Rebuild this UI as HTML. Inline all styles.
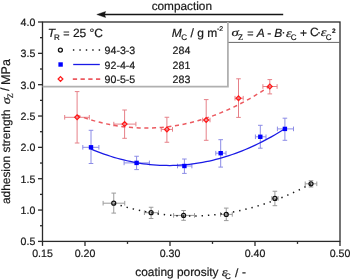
<!DOCTYPE html>
<html><head><meta charset="utf-8"><style>
html,body{margin:0;padding:0;background:#fff;width:350px;height:280px;overflow:hidden}
svg{display:block;filter:blur(0.3px)}
text{text-rendering:geometricPrecision}
text{font-family:"Liberation Sans",sans-serif;fill:#181818;stroke:#181818;stroke-width:0.2px}
.tk{font-size:10.6px}
</style></head><body>
<svg width="350" height="280" viewBox="0 0 350 280">
<rect x="42.5" y="22.0" width="297.5" height="219.4" fill="none" stroke="#2a2a2a" stroke-width="1.3"/>
<line x1="38.0" y1="241.40" x2="42.5" y2="241.40" stroke="#2a2a2a" stroke-width="1.3"/>
<text x="35.3" y="245.30" text-anchor="end" class="tk">0.5</text>
<line x1="40.0" y1="225.73" x2="42.5" y2="225.73" stroke="#2a2a2a" stroke-width="1.3"/>
<line x1="38.0" y1="210.06" x2="42.5" y2="210.06" stroke="#2a2a2a" stroke-width="1.3"/>
<text x="35.3" y="213.96" text-anchor="end" class="tk">1.0</text>
<line x1="40.0" y1="194.39" x2="42.5" y2="194.39" stroke="#2a2a2a" stroke-width="1.3"/>
<line x1="38.0" y1="178.71" x2="42.5" y2="178.71" stroke="#2a2a2a" stroke-width="1.3"/>
<text x="35.3" y="182.61" text-anchor="end" class="tk">1.5</text>
<line x1="40.0" y1="163.04" x2="42.5" y2="163.04" stroke="#2a2a2a" stroke-width="1.3"/>
<line x1="38.0" y1="147.37" x2="42.5" y2="147.37" stroke="#2a2a2a" stroke-width="1.3"/>
<text x="35.3" y="151.27" text-anchor="end" class="tk">2.0</text>
<line x1="40.0" y1="131.70" x2="42.5" y2="131.70" stroke="#2a2a2a" stroke-width="1.3"/>
<line x1="38.0" y1="116.03" x2="42.5" y2="116.03" stroke="#2a2a2a" stroke-width="1.3"/>
<text x="35.3" y="119.93" text-anchor="end" class="tk">2.5</text>
<line x1="40.0" y1="100.36" x2="42.5" y2="100.36" stroke="#2a2a2a" stroke-width="1.3"/>
<line x1="38.0" y1="84.69" x2="42.5" y2="84.69" stroke="#2a2a2a" stroke-width="1.3"/>
<text x="35.3" y="88.59" text-anchor="end" class="tk">3.0</text>
<line x1="40.0" y1="69.01" x2="42.5" y2="69.01" stroke="#2a2a2a" stroke-width="1.3"/>
<line x1="38.0" y1="53.34" x2="42.5" y2="53.34" stroke="#2a2a2a" stroke-width="1.3"/>
<text x="35.3" y="57.24" text-anchor="end" class="tk">3.5</text>
<line x1="40.0" y1="37.67" x2="42.5" y2="37.67" stroke="#2a2a2a" stroke-width="1.3"/>
<line x1="38.0" y1="22.00" x2="42.5" y2="22.00" stroke="#2a2a2a" stroke-width="1.3"/>
<text x="35.3" y="25.90" text-anchor="end" class="tk">4.0</text>
<line x1="42.50" y1="241.4" x2="42.50" y2="245.9" stroke="#2a2a2a" stroke-width="1.3"/>
<text x="42.50" y="256.7" text-anchor="middle" class="tk">0.15</text>
<line x1="85.00" y1="241.4" x2="85.00" y2="245.9" stroke="#2a2a2a" stroke-width="1.3"/>
<text x="85.00" y="256.7" text-anchor="middle" class="tk">0.20</text>
<line x1="170.00" y1="241.4" x2="170.00" y2="245.9" stroke="#2a2a2a" stroke-width="1.3"/>
<text x="170.00" y="256.7" text-anchor="middle" class="tk">0.30</text>
<line x1="255.00" y1="241.4" x2="255.00" y2="245.9" stroke="#2a2a2a" stroke-width="1.3"/>
<text x="255.00" y="256.7" text-anchor="middle" class="tk">0.40</text>
<line x1="340.00" y1="241.4" x2="340.00" y2="245.9" stroke="#2a2a2a" stroke-width="1.3"/>
<text x="340.00" y="256.7" text-anchor="middle" class="tk">0.50</text>
<line x1="127.50" y1="241.4" x2="127.50" y2="243.9" stroke="#2a2a2a" stroke-width="1.3"/>
<line x1="212.50" y1="241.4" x2="212.50" y2="243.9" stroke="#2a2a2a" stroke-width="1.3"/>
<line x1="297.50" y1="241.4" x2="297.50" y2="243.9" stroke="#2a2a2a" stroke-width="1.3"/>
<path d="M77.1,91.6V143.0M64.7,117.3H89.3M74.8,91.6h4.6M74.8,143.0h4.6M64.7,115.0v4.6M89.3,115.0v4.6" stroke="#e68088" stroke-width="1" fill="none"/>
<path d="M124.6,110.0V138.3M113.8,124.1H135.9M122.3,110.0h4.6M122.3,138.3h4.6M113.8,121.8v4.6M135.9,121.8v4.6" stroke="#e68088" stroke-width="1" fill="none"/>
<path d="M166.9,117.25V142.25M161.25,129.4H172.5M164.6,117.25h4.6M164.6,142.25h4.6M161.25,127.10000000000001v4.6M172.5,127.10000000000001v4.6" stroke="#e68088" stroke-width="1" fill="none"/>
<path d="M206.2,99.6V140.3M202.7,120.0H210.0M203.89999999999998,99.6h4.6M203.89999999999998,140.3h4.6M202.7,117.7v4.6M210.0,117.7v4.6" stroke="#e68088" stroke-width="1" fill="none"/>
<path d="M238.5,78.8V117.4M235.0,98.2H243.2M236.2,78.8h4.6M236.2,117.4h4.6M235.0,95.9v4.6M243.2,95.9v4.6" stroke="#e68088" stroke-width="1" fill="none"/>
<path d="M269.8,79.6V93.9M262.9,86.5H277.1M267.5,79.6h4.6M267.5,93.9h4.6M262.9,84.2v4.6M277.1,84.2v4.6" stroke="#e68088" stroke-width="1" fill="none"/>
<path d="M91.0,130.3V163.5M82.8,147.3H98.9M88.7,130.3h4.6M88.7,163.5h4.6M82.8,145.0v4.6M98.9,145.0v4.6" stroke="#8c8ce6" stroke-width="1" fill="none"/>
<path d="M136.6,156.25V169.6M124.1,162.9H149.4M134.29999999999998,156.25h4.6M134.29999999999998,169.6h4.6M124.1,160.6v4.6M149.4,160.6v4.6" stroke="#8c8ce6" stroke-width="1" fill="none"/>
<path d="M184.4,159.0V173.4M177.5,166.0H191.9M182.1,159.0h4.6M182.1,173.4h4.6M177.5,163.7v4.6M191.9,163.7v4.6" stroke="#8c8ce6" stroke-width="1" fill="none"/>
<path d="M220.7,139.7V167.1M215.8,153.2H226.0M218.39999999999998,139.7h4.6M218.39999999999998,167.1h4.6M215.8,150.89999999999998v4.6M226.0,150.89999999999998v4.6" stroke="#8c8ce6" stroke-width="1" fill="none"/>
<path d="M260.3,125.3V148.2M255.4,136.8H266.0M258.0,125.3h4.6M258.0,148.2h4.6M255.4,134.5v4.6M266.0,134.5v4.6" stroke="#8c8ce6" stroke-width="1" fill="none"/>
<path d="M284.9,118.2V140.3M277.4,128.9H293.5M282.59999999999997,118.2h4.6M282.59999999999997,140.3h4.6M277.4,126.60000000000001v4.6M293.5,126.60000000000001v4.6" stroke="#8c8ce6" stroke-width="1" fill="none"/>
<path d="M113.75,193.1V213.1M103.1,203.2H124.75M111.45,193.1h4.6M111.45,213.1h4.6M103.1,200.89999999999998v4.6M124.75,200.89999999999998v4.6" stroke="#9a9a9a" stroke-width="1" fill="none"/>
<path d="M151.1,207.25V218.5M144.4,212.7H158.5M148.79999999999998,207.25h4.6M148.79999999999998,218.5h4.6M144.4,210.39999999999998v4.6M158.5,210.39999999999998v4.6" stroke="#9a9a9a" stroke-width="1" fill="none"/>
<path d="M183.6,210.5V220.3M173.6,215.4H194.5M181.29999999999998,210.5h4.6M181.29999999999998,220.3h4.6M173.6,213.1v4.6M194.5,213.1v4.6" stroke="#9a9a9a" stroke-width="1" fill="none"/>
<path d="M226.25,208.1V220.6M220.6,214.4H232.25M223.95,208.1h4.6M223.95,220.6h4.6M220.6,212.1v4.6M232.25,212.1v4.6" stroke="#9a9a9a" stroke-width="1" fill="none"/>
<path d="M274.9,191.25V205.7M271.8,198.4H278.1M272.59999999999997,191.25h4.6M272.59999999999997,205.7h4.6M271.8,196.1v4.6M278.1,196.1v4.6" stroke="#9a9a9a" stroke-width="1" fill="none"/>
<path d="M311.0,180.7V187.0M305.2,183.8H316.8M308.7,180.7h4.6M308.7,187.0h4.6M305.2,181.5v4.6M316.8,181.5v4.6" stroke="#9a9a9a" stroke-width="1" fill="none"/>
<polyline points="77.10,115.22 80.36,116.41 83.62,117.55 86.88,118.62 90.14,119.64 93.41,120.60 96.67,121.51 99.93,122.35 103.19,123.14 106.45,123.87 109.71,124.54 112.97,125.15 116.23,125.71 119.49,126.20 122.75,126.64 126.02,127.02 129.28,127.35 132.54,127.61 135.80,127.82 139.06,127.97 142.32,128.06 145.58,128.09 148.84,128.07 152.10,127.99 155.36,127.84 158.63,127.65 161.89,127.39 165.15,127.07 168.41,126.70 171.67,126.27 174.93,125.78 178.19,125.23 181.45,124.63 184.71,123.97 187.97,123.25 191.24,122.47 194.50,121.63 197.76,120.74 201.02,119.78 204.28,118.77 207.54,117.70 210.80,116.58 214.06,115.39 217.32,114.15 220.58,112.85 223.85,111.49 227.11,110.07 230.37,108.60 233.63,107.06 236.89,105.47 240.15,103.83 243.41,102.12 246.67,100.35 249.93,98.53 253.19,96.65 256.46,94.71 259.72,92.71 262.98,90.66 266.24,88.55 269.50,86.38" fill="none" stroke="#ec5a60" stroke-width="1.5" stroke-dasharray="4.1 3.59" stroke-dashoffset="0.43"/>
<polyline points="90.80,148.95 94.09,150.32 97.38,151.63 100.67,152.88 103.96,154.07 107.25,155.20 110.54,156.28 113.83,157.29 117.12,158.25 120.41,159.14 123.70,159.98 126.99,160.76 130.28,161.48 133.57,162.14 136.86,162.74 140.15,163.28 143.44,163.76 146.73,164.19 150.02,164.55 153.31,164.86 156.60,165.10 159.89,165.29 163.18,165.42 166.47,165.49 169.76,165.50 173.05,165.45 176.34,165.35 179.63,165.18 182.92,164.96 186.21,164.67 189.49,164.33 192.78,163.93 196.07,163.47 199.36,162.95 202.65,162.37 205.94,161.73 209.23,161.03 212.52,160.28 215.81,159.46 219.10,158.59 222.39,157.65 225.68,156.66 228.97,155.61 232.26,154.50 235.55,153.33 238.84,152.10 242.13,150.82 245.42,149.47 248.71,148.07 252.00,146.60 255.29,145.08 258.58,143.50 261.87,141.86 265.16,140.16 268.45,138.40 271.74,136.58 275.03,134.70 278.32,132.77 281.61,130.77 284.90,128.72" fill="none" stroke="#1a1ae6" stroke-width="1.25"/>
<polyline points="113.75,203.25 117.09,204.35 120.44,205.40 123.78,206.40 127.12,207.35 130.47,208.25 133.81,209.11 137.15,209.91 140.50,210.66 143.84,211.37 147.18,212.03 150.53,212.63 153.87,213.19 157.21,213.70 160.56,214.16 163.90,214.57 167.24,214.93 170.58,215.24 173.93,215.50 177.27,215.71 180.61,215.88 183.96,215.99 187.30,216.06 190.64,216.07 193.99,216.04 197.33,215.96 200.67,215.82 204.02,215.64 207.36,215.41 210.70,215.13 214.05,214.80 217.39,214.43 220.73,214.00 224.08,213.52 227.42,213.00 230.76,212.42 234.11,211.80 237.45,211.13 240.79,210.40 244.14,209.63 247.48,208.81 250.82,207.94 254.17,207.02 257.51,206.05 260.85,205.03 264.19,203.97 267.54,202.85 270.88,201.68 274.22,200.47 277.57,199.21 280.91,197.89 284.25,196.53 287.60,195.12 290.94,193.66 294.28,192.15 297.63,190.59 300.97,188.98 304.31,187.32 307.66,185.61 311.00,183.86" fill="none" stroke="#1a1a1a" stroke-width="1.5" stroke-dasharray="1.4 4.92" stroke-dashoffset="5.55"/>
<path d="M77.1,114.95L79.44999999999999,117.3L77.1,119.64999999999999L74.75,117.3Z" fill="none" stroke="#ff1a1a" stroke-width="1.3"/>
<path d="M124.6,121.75L126.94999999999999,124.1L124.6,126.44999999999999L122.25,124.1Z" fill="none" stroke="#ff1a1a" stroke-width="1.3"/>
<path d="M166.9,127.05000000000001L169.25,129.4L166.9,131.75L164.55,129.4Z" fill="none" stroke="#ff1a1a" stroke-width="1.3"/>
<path d="M206.2,117.65L208.54999999999998,120.0L206.2,122.35L203.85,120.0Z" fill="none" stroke="#ff1a1a" stroke-width="1.3"/>
<path d="M238.5,95.85000000000001L240.85,98.2L238.5,100.55L236.15,98.2Z" fill="none" stroke="#ff1a1a" stroke-width="1.3"/>
<path d="M269.8,84.15L272.15000000000003,86.5L269.8,88.85L267.45,86.5Z" fill="none" stroke="#ff1a1a" stroke-width="1.3"/>
<rect x="88.8" y="145.10000000000002" width="4.4" height="4.4" fill="#0000ff"/>
<rect x="134.4" y="160.70000000000002" width="4.4" height="4.4" fill="#0000ff"/>
<rect x="182.20000000000002" y="163.8" width="4.4" height="4.4" fill="#0000ff"/>
<rect x="218.5" y="151.0" width="4.4" height="4.4" fill="#0000ff"/>
<rect x="258.1" y="134.60000000000002" width="4.4" height="4.4" fill="#0000ff"/>
<rect x="282.7" y="126.7" width="4.4" height="4.4" fill="#0000ff"/>
<circle cx="113.75" cy="203.2" r="2.0" fill="none" stroke="#111" stroke-width="1.25"/>
<circle cx="151.1" cy="212.7" r="2.0" fill="none" stroke="#111" stroke-width="1.25"/>
<circle cx="183.6" cy="215.4" r="2.0" fill="none" stroke="#111" stroke-width="1.25"/>
<circle cx="226.25" cy="214.4" r="2.0" fill="none" stroke="#111" stroke-width="1.25"/>
<circle cx="274.9" cy="198.4" r="2.0" fill="none" stroke="#111" stroke-width="1.25"/>
<circle cx="311.0" cy="183.8" r="2.0" fill="none" stroke="#111" stroke-width="1.25"/>
<path d="M42.5,86.6H227.9V22.0" fill="none" stroke="#b0b0b0" stroke-width="1.8"/>
<path d="M228.5,42.4H340.0" fill="none" stroke="#666" stroke-width="1"/>
<text x="104.6" y="54.20" class="tk">94-3-3</text>
<text x="172.6" y="54.20" class="tk">284</text>
<text x="104.6" y="68.55" class="tk">92-4-4</text>
<text x="172.6" y="68.55" class="tk">281</text>
<text x="104.6" y="82.90" class="tk">90-5-5</text>
<text x="172.6" y="82.90" class="tk">283</text>
<circle cx="60.4" cy="50.0" r="2.0" fill="none" stroke="#111" stroke-width="1.25"/>
<line x1="72.9" y1="50" x2="101" y2="50" stroke="#1a1a1a" stroke-width="1.5" stroke-dasharray="1.4 5.05"/>
<rect x="58.4" y="62.3" width="4.4" height="4.4" fill="#0000ff"/>
<line x1="73.2" y1="64.5" x2="99.8" y2="64.5" stroke="#1a1ae6" stroke-width="1.3"/>
<path d="M60.5,76.65L62.85,79.0L60.5,81.35L58.15,79.0Z" fill="none" stroke="#ff1a1a" stroke-width="1.3"/>
<line x1="72.8" y1="79.1" x2="100.2" y2="79.1" stroke="#ec5a60" stroke-width="1.6" stroke-dasharray="4.3 3.43"/>
<line x1="103" y1="14.5" x2="283.2" y2="14.5" stroke="#151515" stroke-width="1.7"/>
<path d="M96.8,14.5L105.6,11.5L104.6,14.5L105.6,17.5Z" fill="#151515" stroke="#151515" stroke-width="0.4" stroke-linejoin="round"/>
<text x="47.69" y="36.92" style="font-family:'Liberation Sans',sans-serif;font-size:12px;font-style:italic">T</text>
<text x="54.05" y="40.10" style="font-family:'Liberation Sans',sans-serif;font-size:8px">R</text>
<text x="63.33" y="36.52" style="font-family:'Liberation Sans',sans-serif;font-size:10.8px">=</text>
<text x="72.88" y="36.83" style="font-family:'Liberation Sans',sans-serif;font-size:12px">25 °C</text>
<text x="171.81" y="37.12" style="font-family:'Liberation Sans',sans-serif;font-size:12px;font-style:italic">M</text>
<text x="181.22" y="39.80" style="font-family:'Liberation Sans',sans-serif;font-size:8px">C</text>
<text x="190.51" y="37.36" style="font-family:'Liberation Sans',sans-serif;font-size:12px">/ g m</text>
<text x="217.03" y="31.29" style="font-family:'Liberation Sans',sans-serif;font-size:7px">-2</text>
<text transform="translate(231.44,36.48) scale(1.18,0.92)" style="font-family:'Liberation Serif',serif;font-size:12.5px;font-style:italic">σ</text>
<text x="238.00" y="40.44" style="font-family:'Liberation Serif',serif;font-size:8.3px">Z</text>
<text x="247.27" y="36.61" style="font-family:'Liberation Sans',sans-serif;font-size:10.8px">=</text>
<text x="256.66" y="36.52" style="font-family:'Liberation Sans',sans-serif;font-size:12px;font-style:italic">A</text>
<text x="267.35" y="36.98" style="font-family:'Liberation Sans',sans-serif;font-size:12px">-</text>
<text x="274.25" y="36.67" style="font-family:'Liberation Sans',sans-serif;font-size:12px;font-style:italic">B</text>
<text x="281.55" y="36.15" style="font-family:'Liberation Sans',sans-serif;font-size:12px">·</text>
<text transform="translate(285.90,36.89) scale(1.15,0.95)" style="font-family:'Liberation Serif',serif;font-size:12.5px;font-style:italic">ε</text>
<text x="290.77" y="40.40" style="font-family:'Liberation Sans',sans-serif;font-size:8px">C</text>
<text x="299.95" y="36.60" style="font-family:'Liberation Sans',sans-serif;font-size:12px">+</text>
<text x="309.98" y="36.13" style="font-family:'Liberation Sans',sans-serif;font-size:12px">C</text>
<text x="317.10" y="36.15" style="font-family:'Liberation Sans',sans-serif;font-size:12px">·</text>
<text transform="translate(320.75,36.39) scale(1.15,0.95)" style="font-family:'Liberation Serif',serif;font-size:12.5px;font-style:italic">ε</text>
<text x="325.72" y="39.85" style="font-family:'Liberation Sans',sans-serif;font-size:8px">C</text>
<text x="331.89" y="32.95" style="font-family:'Liberation Sans',sans-serif;font-size:6.5px;font-weight:bold">2</text>
<text x="151.64" y="10.26" style="font-family:'Liberation Sans',sans-serif;font-size:11.8px">compaction</text>
<text x="135.28" y="276.11" style="font-family:'Liberation Sans',sans-serif;font-size:11.9px">coating porosity</text>
<text transform="translate(221.80,275.79) scale(1.15,0.97)" style="font-family:'Liberation Serif',serif;font-size:12.5px;font-style:italic">ε</text>
<text x="225.02" y="278.60" style="font-family:'Liberation Sans',sans-serif;font-size:8px">C</text>
<text x="235.03" y="276.65" style="font-family:'Liberation Sans',sans-serif;font-size:11.9px">/</text>
<text x="241.91" y="275.88" style="font-family:'Liberation Sans',sans-serif;font-size:11.9px">-</text>
<text transform="translate(9.50,204.03) rotate(-90)" style="font-family:'Liberation Sans',sans-serif;font-size:11.9px">adhesion strength</text>
<text transform="translate(9.85,104.30) rotate(-90) scale(1.12,0.95)" style="font-family:'Liberation Serif',serif;font-size:12.5px;font-style:italic">σ</text>
<text transform="translate(13.49,98.25) rotate(-90)" style="font-family:'Liberation Serif',serif;font-size:8.3px">Z</text>
<text transform="translate(9.49,91.12) rotate(-90)" style="font-family:'Liberation Sans',sans-serif;font-size:11.8px">/</text>
<text transform="translate(9.60,84.89) rotate(-90)" style="font-family:'Liberation Sans',sans-serif;font-size:12.6px">MPa</text>
</svg>
</body></html>
